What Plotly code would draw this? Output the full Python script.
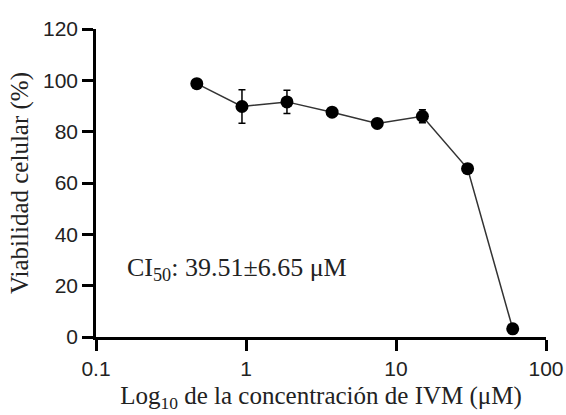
import plotly.graph_objects as go

# Data
concentration_uM = [0.47, 0.94, 1.875, 3.75, 7.5, 15, 30, 60]
viability_pct = [98.7, 89.8, 91.6, 87.6, 83.2, 86.0, 65.6, 3.2]
viability_sd = [1.0, 6.5, 4.5, 1.5, 1.0, 2.5, 1.0, 0.8]

x_tick_vals = [0.1, 1, 10, 100]
x_tick_text = ["0.1", "1", "10", "100"]
y_tick_vals = [0, 20, 40, 60, 80, 100, 120]

ic50_label = "CI<sub>50</sub>: 39.51±6.65 μM"

serif = "Liberation Serif, Times New Roman, serif"
sans = "Liberation Sans, Arial, sans-serif"

fig = go.Figure()
fig.add_trace(go.Scatter(
    x=concentration_uM, y=viability_pct,
    mode="lines+markers",
    line=dict(color="#333333", width=1.5),
    marker=dict(color="black", size=13),
    error_y=dict(type="data", array=viability_sd, visible=True,
                 color="black", thickness=1.5, width=3.5),
    showlegend=False,
    cliponaxis=False,
))

fig.add_annotation(
    x=-0.807, y=26.5, xref="x", yref="y",
    text=ic50_label, showarrow=False, xanchor="left", yanchor="middle",
    font=dict(family=serif, size=26, color="#222222"),
)

fig.update_layout(
    width=566, height=415,
    margin=dict(l=96, r=20, t=29, b=78, autoexpand=False),
    paper_bgcolor="white", plot_bgcolor="white",
    font=dict(family=sans, color="#222222"),
)
fig.update_xaxes(
    type="log", range=[-1, 2], automargin=False,
    tickvals=x_tick_vals, ticktext=x_tick_text,
    showgrid=False, zeroline=False,
    showline=True, linecolor="black", linewidth=2.5,
    ticks="outside", ticklen=11, tickwidth=2.5, tickcolor="black",
    tickfont=dict(family=sans, size=21, color="#222222"),
    title=dict(text="Log<sub>10</sub> de la concentración de IVM (μM)",
               font=dict(family=serif, size=25, color="#222222"), standoff=8),
)
fig.update_yaxes(
    range=[0, 120], automargin=False,
    tickvals=y_tick_vals,
    showgrid=False, zeroline=False,
    showline=True, linecolor="black", linewidth=2.5,
    ticks="outside", ticklen=11, tickwidth=2.5, tickcolor="black",
    tickfont=dict(family=sans, size=21, color="#222222"),
    title=dict(text="Viabilidad celular (%)",
               font=dict(family=serif, size=25, color="#222222"), standoff=8),
)

fig.write_html("out.html",
               config={"displayModeBar": False},
               post_script="document.body.style.margin='0';document.body.style.overflow='hidden';")
